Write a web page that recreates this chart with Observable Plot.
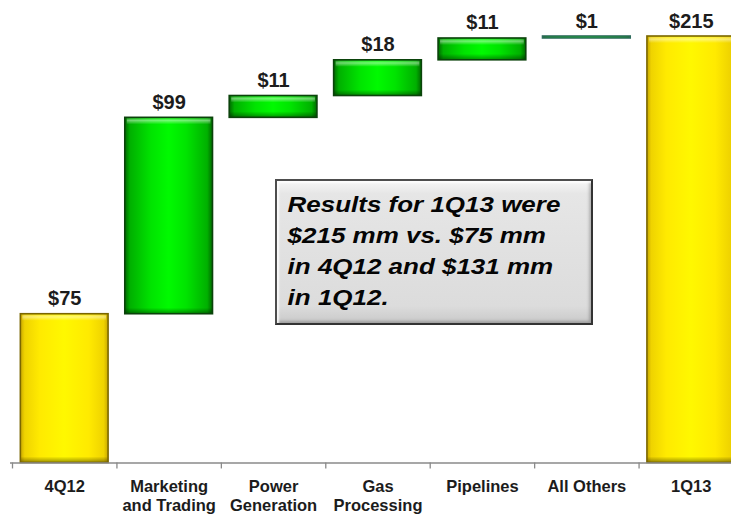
<!DOCTYPE html>
<html>
<head>
<meta charset="utf-8">
<script src="https://cdn.jsdelivr.net/npm/d3@7"></script>
<script src="https://cdn.jsdelivr.net/npm/@observablehq/plot@0.6"></script>
<style>
  html, body { margin: 0; padding: 0; background: #ffffff; }
  #chart { position: relative; width: 731px; height: 516px; overflow: hidden;
           font-family: "Liberation Sans", Arial, sans-serif; }
  #chart svg { display: block; }
  #note { position: absolute; left: 275px; top: 179px; width: 314px; height: 142px;
          border: 2px solid #4d4d4d; border-right-color: #333; border-bottom-color: #333;
          background: linear-gradient(#f6f6f6 0%, #e6e6e6 9%, #dcdcdc 88%, #c9c9c9 100%);
          box-shadow: inset 2px 2px 2px rgba(255,255,255,0.85), inset -2px -2px 3px rgba(0,0,0,0.22);
          box-sizing: content-box; }
  #note .lines { padding: 8px 0 0 9px; font-style: italic; font-weight: bold; font-size: 22px;
                 line-height: 31px; color: #050505; white-space: nowrap;
                 transform: scaleX(1.18); transform-origin: left top; }
</style>
</head>
<body>
<div id="chart"></div>
<script>
// Earnings bridge, $ millions
const categories = ["4Q12", "Marketing and Trading", "Power Generation", "Gas Processing", "Pipelines", "All Others", "1Q13"];
const axisLabels = ["4Q12", "Marketing\nand Trading", "Power\nGeneration", "Gas\nProcessing", "Pipelines", "All Others", "1Q13"];
const amounts = [75, 99, 11, 18, 11, 1, 215];
const kinds = ["total", "change", "change", "change", "change", "change", "total"];
const noteLines = ["Results for 1Q13 were", "$215 mm vs. $75 mm", "in 4Q12 and $131 mm", "in 1Q12."];

// Running totals: totals start at zero, changes stack on the previous level
let level = 0;
const rows = categories.map((category, i) => {
  let lo, hi;
  if (kinds[i] === "total") { lo = 0; hi = amounts[i]; }
  else { lo = level; hi = level + amounts[i]; }
  level = hi;
  return { category, axisLabel: axisLabels[i], kind: kinds[i], amount: amounts[i], lo, hi };
});
const totals = rows.filter(d => d.kind === "total");
const changes = rows.filter(d => d.kind === "change");

const xRange = [12, 743];
const step = (xRange[1] - xRange[0]) / categories.length;

// Beveled bar: body gradient, top glint, bottom shade, outline
function bevelBar(data, bodyFill, stroke) {
  const tall = d => d.hi - d.lo > 4;
  return [
    Plot.barY(data, { x: "category", y1: "lo", y2: "hi", fill: bodyFill }),
    Plot.barY(data, { x: "category", y1: "hi", y2: "hi", filter: tall, insetBottom: -7, insetLeft: 2, insetRight: 2, fill: "url(#glint)" }),
    Plot.barY(data, { x: "category", y1: "lo", y2: "lo", filter: tall, insetTop: -6, fill: "url(#shade)" }),
    Plot.barY(data, { x: "category", y1: "lo", y2: "hi", fill: "none", stroke, strokeWidth: 1.6 })
  ];
}

const svg = Plot.plot({
  width: 731,
  height: 516,
  marginLeft: 10,
  marginRight: 0,
  marginTop: 0,
  marginBottom: 0,
  style: { fontFamily: "'Liberation Sans', Arial, sans-serif", background: "#ffffff", overflow: "hidden" },
  x: { domain: categories, range: xRange, paddingInner: 0.16, paddingOuter: 0.08, round: false, axis: null },
  y: { domain: [0, 215], range: [462.5, 36], axis: null },
  marks: [
    ...bevelBar(totals, "url(#gold)", "#7a6600"),
    ...bevelBar(changes, "url(#green)", d => d.amount < 3 ? "#2f6b5c" : "#0b430b"),
    Plot.ruleY([0], { stroke: "#8a8a8a", strokeWidth: 1.3 }),
    Plot.ruleX(categories, { x: d => d, y1: d => 0, y2: d => -3, dx: -step / 2, stroke: "#8a8a8a", strokeWidth: 1.3 }),
    Plot.text(rows, { x: "category", y: "hi", text: d => `$${d.amount}`, dy: -9, lineAnchor: "bottom",
                      fontSize: 20, fontWeight: "bold", fill: "#1c1c1c" }),
    Plot.text(rows, { x: "category", y: d => 0, text: "axisLabel", dy: 15, lineAnchor: "top",
                      lineHeight: 1.17, fontSize: 16.5, fontWeight: "bold", fill: "#1c1c1c" })
  ]
});

// Gradient definitions used by the bar fills
const defs = d3.select(svg).insert("defs", ":first-child");
function hGrad(id, stops) {
  const g = defs.append("linearGradient").attr("id", id).attr("x1", 0).attr("y1", 0).attr("x2", 1).attr("y2", 0);
  stops.forEach(([o, c]) => g.append("stop").attr("offset", o).attr("stop-color", c));
}
function vGrad(id, stops) {
  const g = defs.append("linearGradient").attr("id", id).attr("x1", 0).attr("y1", 0).attr("x2", 0).attr("y2", 1);
  stops.forEach(([o, c, a]) => g.append("stop").attr("offset", o).attr("stop-color", c).attr("stop-opacity", a));
}
hGrad("gold", [[0, "#c9a800"], [0.05, "#efd300"], [0.22, "#ffea00"], [0.5, "#fff800"], [0.78, "#ffea00"], [0.95, "#efd300"], [1, "#c9a800"]]);
hGrad("green", [[0, "#006a00"], [0.06, "#00b000"], [0.3, "#00e400"], [0.5, "#00fa00"], [0.7, "#00e400"], [0.94, "#00b000"], [1, "#006a00"]]);
vGrad("glint", [[0, "#ffffff", 0.0], [0.45, "#ffffff", 0.45], [1, "#ffffff", 0.0]]);
vGrad("shade", [[0, "#000000", 0.0], [1, "#000000", 0.4]]);

const chart = document.getElementById("chart");
chart.appendChild(svg);

// Callout box with the quarter summary
const note = document.createElement("div");
note.id = "note";
const lines = document.createElement("div");
lines.className = "lines";
noteLines.forEach((t, i) => {
  if (i) lines.appendChild(document.createElement("br"));
  lines.appendChild(document.createTextNode(t));
});
note.appendChild(lines);
chart.appendChild(note);
</script>
</body>
</html>
